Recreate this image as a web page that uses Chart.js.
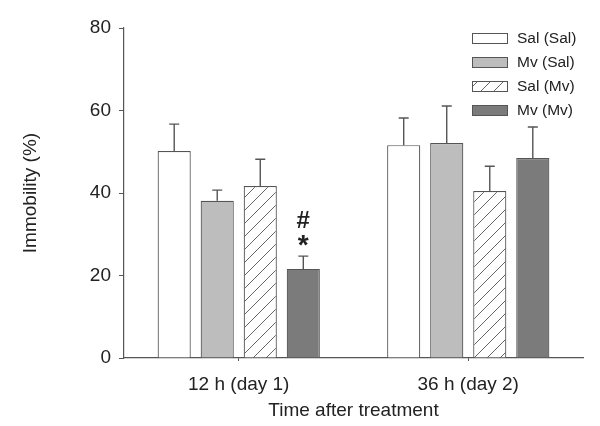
<!DOCTYPE html>
<html>
<head>
<meta charset="utf-8">
<script src="https://cdn.jsdelivr.net/npm/chart.js@4.4.0/dist/chart.umd.min.js"></script>
<style>
  html, body { margin: 0; padding: 0; background: #fff; }
  #wrap { width: 600px; height: 426px; }
</style>
</head>
<body>
<div id="wrap"><canvas id="immobilityChart" width="600" height="426"></canvas></div>
<script>
// chart data
const categories = ['12 h (day 1)', '36 h (day 2)'];
const groupLabels = ['Sal (Sal)', 'Mv (Sal)', 'Sal (Mv)', 'Mv (Mv)'];
const salSal = [50.2, 51.6];
const mvSal = [38.1, 52.1];
const salMv = [41.7, 40.5];
const mvMv = [21.6, 48.5];
// upper error (SEM) for each bar
const salSalErr = [6.5, 6.6];
const mvSalErr = [2.6, 9.0];
const salMvErr = [6.5, 6.0];
const mvMvErr = [3.1, 7.5];
const yTicks = [0, 20, 40, 60, 80];
// significance marks: [dataset index, category index, text]
const marks = [[3, 0, ['#', '*']]];

const FONT = "'Liberation Sans', Arial, sans-serif";
const INK = '#222';
const LINE = '#555';

// diagonal hatch for the Sal (Mv) bars
function makeHatch() {
  const c = document.createElement('canvas');
  c.width = 13;
  c.height = 13;
  const g = c.getContext('2d');
  g.fillStyle = '#fff';
  g.fillRect(0, 0, 13, 13);
  g.strokeStyle = '#666';
  g.lineWidth = 1;
  g.beginPath();
  g.moveTo(0, 13); g.lineTo(13, 0);
  g.moveTo(-2, 2); g.lineTo(2, -2);
  g.moveTo(11, 15); g.lineTo(15, 11);
  g.stroke();
  return g.createPattern(c, 'repeat');
}

document.addEventListener('DOMContentLoaded', function () {
  const ctx = document.getElementById('immobilityChart').getContext('2d');
  const hatch = makeHatch();
  const fills = ['#ffffff', '#bdbdbd', hatch, '#7b7b7b'];
  const values = [salSal, mvSal, salMv, mvMv];
  const errors = [salSalErr, mvSalErr, salMvErr, mvMvErr];

  // error bars (upper only) and significance symbols
  const errorBars = {
    id: 'errorBars',
    afterDatasetsDraw(chart) {
      const c = chart.ctx;
      const y = chart.scales.y;
      c.save();
      c.strokeStyle = LINE;
      c.lineWidth = 1.4;
      chart.data.datasets.forEach((ds, di) => {
        chart.getDatasetMeta(di).data.forEach((bar, i) => {
          const top = y.getPixelForValue(values[di][i] + errors[di][i]);
          c.beginPath();
          c.moveTo(bar.x, bar.y);
          c.lineTo(bar.x, top);
          c.moveTo(bar.x - 5, top);
          c.lineTo(bar.x + 5, top);
          c.stroke();
        });
      });
      c.fillStyle = INK;
      c.textAlign = 'center';
      c.textBaseline = 'middle';
      marks.forEach(([di, i, txt]) => {
        const bar = chart.getDatasetMeta(di).data[i];
        const top = y.getPixelForValue(values[di][i] + errors[di][i]);
        c.font = 'bold 24px ' + FONT;
        c.fillText(txt[0], bar.x, top - 35);
        c.font = 'bold 28px ' + FONT;
        c.fillText(txt[1], bar.x, top - 10);
      });
      c.restore();
    }
  };

  // legend drawn inside the plot, top right
  const boxLegend = {
    id: 'boxLegend',
    afterDraw(chart) {
      const c = chart.ctx;
      c.save();
      c.font = '15.5px ' + FONT;
      c.textBaseline = 'middle';
      c.textAlign = 'left';
      chart.data.datasets.forEach((ds, i) => {
        const cy = 38 + i * 24;
        c.fillStyle = ds.backgroundColor;
        c.fillRect(472, cy - 5, 36, 10);
        c.strokeStyle = LINE;
        c.lineWidth = 1;
        c.strokeRect(472.5, cy - 4.5, 35, 10);
        c.fillStyle = INK;
        c.fillText(ds.label, 517, cy + 1);
      });
      c.restore();
    }
  };

  new Chart(ctx, {
    type: 'bar',
    data: {
      labels: categories,
      datasets: groupLabels.map((label, i) => ({
        label: label,
        data: values[i],
        backgroundColor: fills[i],
        borderColor: LINE,
        borderWidth: 1.2,
        borderSkipped: 'bottom',
        categoryPercentage: 0.75,
        barPercentage: 0.77
      }))
    },
    options: {
      responsive: false,
      animation: false,
      layout: { padding: { left: 0, right: 17, top: 28, bottom: 0 } },
      plugins: {
        legend: { display: false },
        tooltip: { enabled: false }
      },
      scales: {
        x: {
          afterFit(scale) { scale.height = 68; },
          grid: {
            offset: false,
            drawOnChartArea: false,
            color: LINE,
            tickLength: 3
          },
          border: { display: true, color: LINE, width: 1.2 },
          ticks: { color: INK, font: { family: FONT, size: 19 }, padding: 12 },
          title: {
            display: true,
            text: 'Time after treatment',
            color: INK,
            font: { family: FONT, size: 19 },
            padding: { top: 0, bottom: 4 }
          }
        },
        y: {
          min: 0,
          max: 80,
          afterFit(scale) { scale.width = 124; },
          afterBuildTicks(scale) { scale.ticks = yTicks.map(v => ({ value: v })); },
          grid: {
            drawOnChartArea: false,
            color: LINE,
            tickLength: 5
          },
          border: { display: true, color: LINE, width: 1.2 },
          ticks: { color: INK, font: { family: FONT, size: 19 }, padding: 8 },
          title: {
            display: true,
            text: 'Immobility (%)',
            color: INK,
            font: { family: FONT, size: 19 },
            padding: { top: 19, bottom: 0 }
          }
        }
      }
    },
    plugins: [errorBars, boxLegend]
  });
});
</script>
</body>
</html>
